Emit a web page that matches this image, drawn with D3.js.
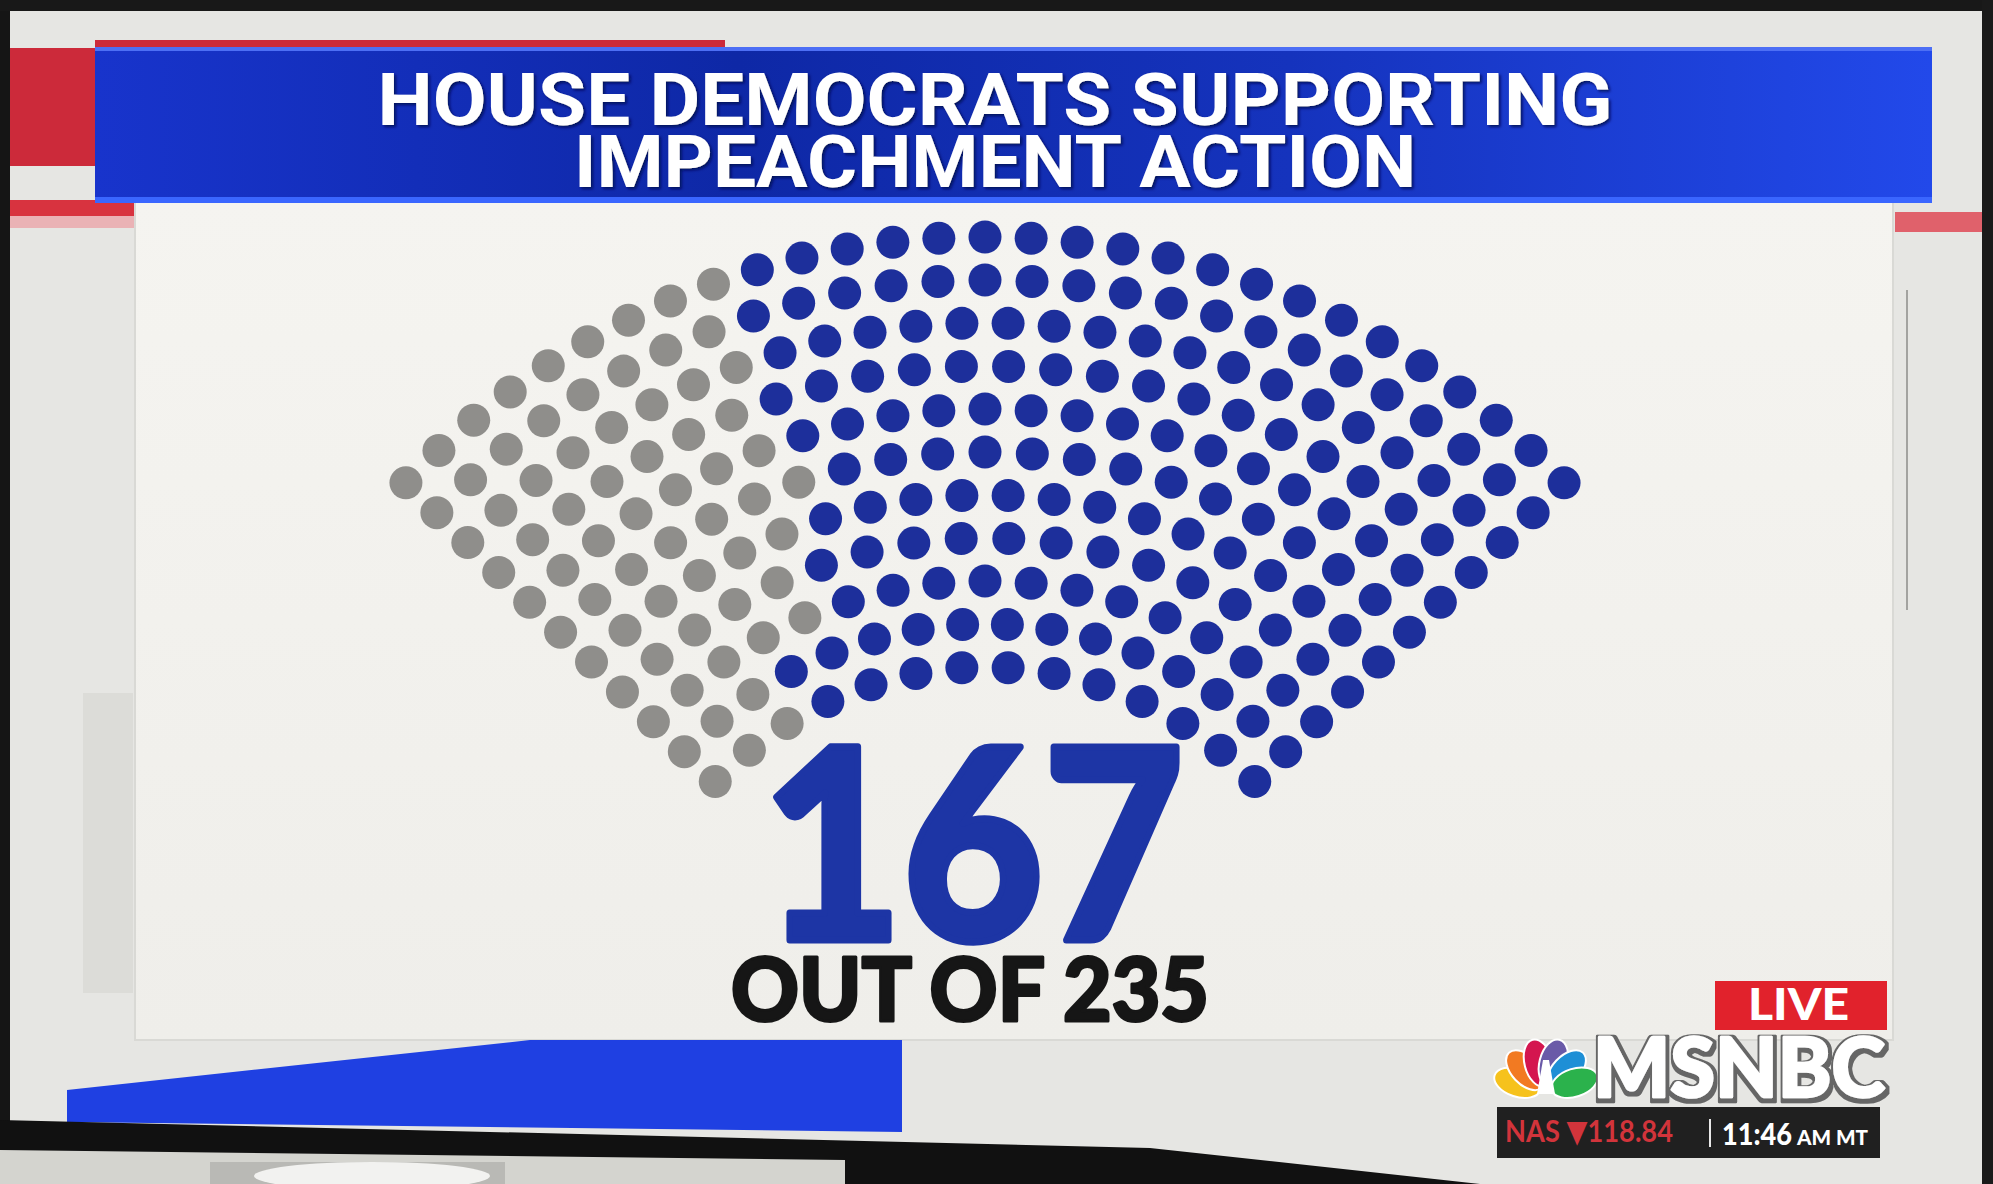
<!DOCTYPE html>
<html>
<head>
<meta charset="utf-8">
<script src="https://cdn.jsdelivr.net/npm/d3@7"></script>
<style>
html, body { margin: 0; padding: 0; background: #111; }
svg { display: block; }
</style>
</head>
<body>
<main></main>
<script>
// chart values
const titleLines = ["HOUSE DEMOCRATS SUPPORTING", "IMPEACHMENT ACTION"];
const rowSeats = [14, 16, 17, 18, 20, 21, 23, 24, 26, 27, 29];   // inner row -> outer row
const rowNotYet = [3, 3, 5, 5, 6, 7, 7, 7, 8, 8, 9];             // grey seats at the left of each row
const groups = ["Not yet", "Supporting"];
const supporting = 167, total = 235;
const tickerText = ["NAS \u25BC118.84", "11:46", "AM MT"];
const feathers = ["#f6c21c", "#f27a22", "#d4164f", "#6a5aa8", "#1e8fd6", "#2bb24c"];

const w = 1993, h = 1184;

const svg = d3.select("main")
	.append("svg")
	.attr("width", w)
	.attr("height", h);

const defs = svg.append("defs");

const bannerGrad = defs.append("linearGradient").attr("id", "banner");
[["0", "#1834cc"], ["0.35", "#0e28a6"], ["0.65", "#1533bd"], ["1", "#2249ea"]]
	.forEach(s => bannerGrad.append("stop").attr("offset", s[0]).attr("stop-color", s[1]));

const panelGrad = defs.append("linearGradient").attr("id", "panel")
	.attr("x1", 0).attr("y1", 0).attr("x2", 0).attr("y2", 1);
[["0", "#f5f4f0"], ["1", "#efeeea"]]
	.forEach(s => panelGrad.append("stop").attr("offset", s[0]).attr("stop-color", s[1]));

const shadow = defs.append("filter").attr("id", "shadow")
	.attr("x", "-5%").attr("y", "-20%").attr("width", "110%").attr("height", "140%");
shadow.append("feDropShadow").attr("dx", 2).attr("dy", 2).attr("stdDeviation", 1.5)
	.attr("flood-color", "#061055").attr("flood-opacity", 0.9);

// grey rim round the white logo letters
const rim = defs.append("filter").attr("id", "rim")
	.attr("x", "-5%").attr("y", "-10%").attr("width", "110%").attr("height", "125%");
rim.append("feMorphology").attr("in", "SourceAlpha").attr("operator", "dilate").attr("radius", 2.5).attr("result", "fat");
rim.append("feOffset").attr("in", "fat").attr("dx", 1).attr("dy", 1.5).attr("result", "off");
rim.append("feFlood").attr("flood-color", "#666666");
rim.append("feComposite").attr("in2", "off").attr("operator", "in").attr("result", "edge");
const rimMerge = rim.append("feMerge");
rimMerge.append("feMergeNode").attr("in", "edge");
rimMerge.append("feMergeNode").attr("in", "SourceGraphic");

// screen background
svg.append("rect").attr("width", w).attr("height", h).attr("fill", "#e6e6e3");

// studio stripes left and right
svg.append("rect").attr("x", 10).attr("y", 48).attr("width", 90).attr("height", 118).attr("fill", "#cc2a3a");
svg.append("rect").attr("x", 95).attr("y", 40).attr("width", 630).attr("height", 10).attr("fill", "#cc2a3a");
svg.append("rect").attr("x", 10).attr("y", 200).attr("width", 125).attr("height", 16).attr("fill", "#d8333f");
svg.append("rect").attr("x", 10).attr("y", 216).attr("width", 125).attr("height", 12).attr("fill", "#eab2b5");
svg.append("rect").attr("x", 1895).attr("y", 212).attr("width", 98).attr("height", 20).attr("fill", "#e0616b");
svg.append("rect").attr("x", 83).attr("y", 693).attr("width", 50).attr("height", 300).attr("fill", "#dcdcd8");
svg.append("line").attr("x1", 1907).attr("x2", 1907).attr("y1", 290).attr("y2", 610)
	.attr("stroke", "#a3a3a0").attr("stroke-width", 2);

// white panel
svg.append("rect").attr("x", 135).attr("y", 200).attr("width", 1758).attr("height", 840)
	.attr("fill", "url(#panel)").attr("stroke", "#d9d9d5").attr("stroke-width", 2);

// title banner
svg.append("rect").attr("x", 95).attr("y", 47).attr("width", 1837).attr("height", 156).attr("fill", "url(#banner)");
svg.append("rect").attr("x", 95).attr("y", 47).attr("width", 1837).attr("height", 4).attr("fill", "#4d6ff5");
svg.append("rect").attr("x", 95).attr("y", 197).attr("width", 1837).attr("height", 6).attr("fill", "#3a66ff");

svg.append("g")
	.attr("filter", "url(#shadow)")
	.selectAll("text")
	.data(titleLines)
	.join("text")
	.attr("x", 995)
	.attr("y", (d, i) => 125 + i * 62)
	.attr("text-anchor", "middle")
	.attr("textLength", (d, i) => i === 0 ? 1235 : 842)
	.attr("lengthAdjust", "spacingAndGlyphs")
	.style("font-family", "Roboto, 'Open Sans', sans-serif")
	.style("font-weight", 700)
	.style("font-size", "72px")
	.style("fill", "#ffffff")
	.text(d => d);

// seats: concentric rows, each spread over the same angle
const cx = 985, cy = 1042;
const rScale = d3.scaleLinear().domain([0, rowSeats.length - 1]).range([375, 805]);
const color = d3.scaleOrdinal().domain(groups).range(["#8f8e8b", "#1d2f9b"]);

const seats = [];
rowSeats.forEach((n, i) => {
	const aScale = d3.scaleLinear().domain([0, n - 1]).range([-46 * Math.PI / 180, 46 * Math.PI / 180]);
	d3.range(n).forEach(k => {
		seats.push({row: i, a: aScale(k), r: rScale(i), group: k < rowNotYet[i] ? groups[0] : groups[1]});
	});
});

svg.append("g")
	.attr("transform", "translate(" + cx + "," + cy + ")")
	.selectAll("circle")
	.data(seats)
	.join("circle")
	.attr("cx", d => d3.pointRadial(d.a, d.r)[0])
	.attr("cy", d => d3.pointRadial(d.a, d.r)[1])
	.attr("r", 16.5)
	.attr("fill", d => color(d.group));

// big number
svg.append("text")
	.attr("x", 762).attr("y", 940)
	.attr("textLength", 422).attr("lengthAdjust", "spacingAndGlyphs")
	.style("font-family", "Lato, 'Open Sans', sans-serif")
	.style("font-weight", 900)
	.style("font-size", "266px")
	.style("fill", "#1d35a5")
	.style("stroke", "#1d35a5").style("stroke-width", 7).style("stroke-linejoin", "round")
	.text(d3.format("d")(supporting));

svg.append("text")
	.attr("x", 731).attr("y", 1021)
	.attr("textLength", 478).attr("lengthAdjust", "spacingAndGlyphs")
	.style("font-family", "Lato, 'Open Sans', sans-serif")
	.style("font-weight", 900)
	.style("font-size", "88px")
	.style("fill", "#161616")
	.style("stroke", "#161616").style("stroke-width", 3).style("stroke-linejoin", "round")
	.text("OUT OF " + total);

// bottom blue bar
svg.append("polygon")
	.attr("points", "67,1090 530,1040 902,1040 902,1132 67,1122")
	.attr("fill", "#1f40e2");

// TV bezel and what is under it
svg.append("rect").attr("width", 10).attr("height", h).attr("fill", "#151515");
svg.append("rect").attr("width", w).attr("height", 11).attr("fill", "#181818");
svg.append("rect").attr("x", 1982).attr("width", 11).attr("height", h).attr("fill", "#1a1a1a");
svg.append("polygon").attr("points", "0,1120 1150,1148 1480,1184 0,1184").attr("fill", "#111111");
svg.append("polygon").attr("points", "0,1150 845,1160 845,1184 0,1184").attr("fill", "#d4d4cf");
svg.append("rect").attr("x", 210).attr("y", 1162).attr("width", 295).attr("height", 22).attr("fill", "#b9b9b5");
svg.append("ellipse").attr("cx", 372).attr("cy", 1176).attr("rx", 118).attr("ry", 14).attr("fill", "#f2f2f0");

// LIVE box
svg.append("rect").attr("x", 1715).attr("y", 981).attr("width", 172).attr("height", 49).attr("fill", "#e1222c");
svg.append("text")
	.attr("x", 1748).attr("y", 1020)
	.attr("textLength", 101).attr("lengthAdjust", "spacingAndGlyphs")
	.style("font-family", "Lato, sans-serif").style("font-weight", 900).style("font-size", "44px")
	.style("fill", "#ffffff")
	.text("LIVE");

// peacock
const peacock = svg.append("g").attr("transform", "translate(1546,1092)");
const fAngle = d3.scaleLinear().domain([0, feathers.length - 1]).range([-72, 72]);
peacock.selectAll("ellipse")
	.data(feathers)
	.join("ellipse")
	.attr("transform", (d, i) => "rotate(" + fAngle(i) + ") translate(0,-30)")
	.attr("rx", 14).attr("ry", 24)
	.attr("fill", d => d)
	.attr("stroke", "#ffffff").attr("stroke-width", 2);
peacock.append("path").attr("d", "M-9,2 L-3,-32 L3,-32 L9,2 Z").attr("fill", "#ffffff");

svg.append("text")
	.attr("x", 1593).attr("y", 1097)
	.attr("textLength", 292).attr("lengthAdjust", "spacingAndGlyphs")
	.attr("filter", "url(#rim)")
	.style("font-family", "Lato, sans-serif").style("font-weight", 900).style("font-size", "82px")
	.style("fill", "#ffffff").style("stroke", "#ffffff").style("stroke-width", 2.5)
	.style("stroke-linejoin", "round")
	.text("MSNBC");

// ticker
svg.append("rect").attr("x", 1497).attr("y", 1107).attr("width", 383).attr("height", 51).attr("fill", "#202020");
svg.append("text")
	.attr("x", 1505).attr("y", 1142)
	.attr("textLength", 168).attr("lengthAdjust", "spacingAndGlyphs")
	.style("font-family", "Lato, 'DejaVu Sans', sans-serif").style("font-weight", 700).style("font-size", "31px")
	.style("fill", "#d2343b")
	.text(tickerText[0]);
svg.append("line").attr("x1", 1710).attr("x2", 1710).attr("y1", 1119).attr("y2", 1147)
	.attr("stroke", "#e8e8e8").attr("stroke-width", 2);
svg.append("text")
	.attr("x", 1722).attr("y", 1145)
	.attr("textLength", 70).attr("lengthAdjust", "spacingAndGlyphs")
	.style("font-family", "Lato, sans-serif").style("font-weight", 900).style("font-size", "30px")
	.style("fill", "#ffffff")
	.text(tickerText[1]);
svg.append("text")
	.attr("x", 1797).attr("y", 1145)
	.attr("textLength", 71).attr("lengthAdjust", "spacingAndGlyphs")
	.style("font-family", "Lato, sans-serif").style("font-weight", 900).style("font-size", "21px")
	.style("fill", "#ffffff")
	.text(tickerText[2]);
</script>
</body>
</html>
